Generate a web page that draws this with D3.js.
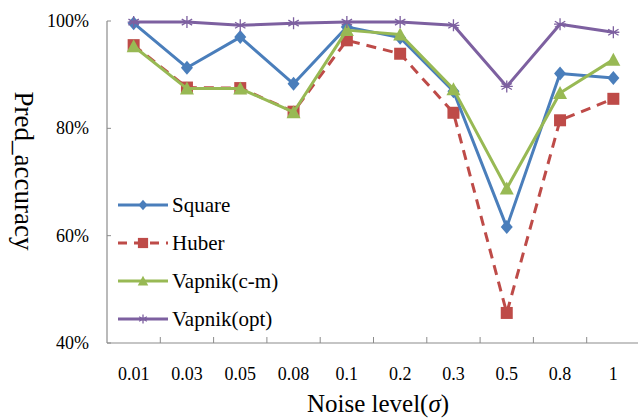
<!DOCTYPE html>
<html>
<head>
<meta charset="utf-8">
<script src="https://cdn.jsdelivr.net/npm/d3@7"></script>
<style>
  body { margin: 0; background: #fff; }
  svg text { font-family: "Liberation Serif", "Times New Roman", serif; }
</style>
</head>
<body>
<div id="chart"></div>
<script>
var categories = ["0.01", "0.03", "0.05", "0.08", "0.1", "0.2", "0.3", "0.5", "0.8", "1"];
var yTicks = [0.4, 0.6, 0.8, 1.0];
var seriesNames = ["Square", "Huber", "Vapnik(c-m)", "Vapnik(opt)"];
var square = [99.6, 91.3, 97.0, 88.3, 98.9, 96.9, 86.9, 61.6, 90.2, 89.4];
var huber = [95.5, 87.6, 87.5, 83.1, 96.4, 93.9, 82.9, 45.6, 81.5, 85.5];
var vapnikCm = [95.3, 87.4, 87.4, 83.0, 98.3, 97.5, 87.3, 68.8, 86.6, 92.8];
var vapnikOpt = [99.8, 99.8, 99.2, 99.6, 99.8, 99.8, 99.2, 87.8, 99.4, 97.9];

var width = 638, height = 420;
var margin = { left: 107, right: 0, top: 21, bottom: 77 };

var svg = d3.select("#chart").append("svg")
  .attr("width", width)
  .attr("height", height);

var x = d3.scaleBand()
  .domain(categories)
  .range([margin.left, 640]);

var y = d3.scaleLinear()
  .domain([0.4, 1.0])
  .range([height - margin.bottom, margin.top]);

var colors = ["#4a7ebb", "#be4b48", "#98b954", "#7d60a0"];
var allData = [square, huber, vapnikCm, vapnikOpt];

// axes
var axisColor = "#8c8c8c";
svg.append("line")
  .attr("x1", margin.left).attr("x2", margin.left)
  .attr("y1", y(1.0)).attr("y2", y(0.4))
  .style("stroke", axisColor).style("stroke-width", 1.2);
svg.append("line")
  .attr("x1", margin.left).attr("x2", 640)
  .attr("y1", y(0.4)).attr("y2", y(0.4))
  .style("stroke", axisColor).style("stroke-width", 1.2);

// y ticks
yTicks.forEach(function (t) {
  svg.append("line")
    .attr("x1", margin.left).attr("x2", margin.left + 4)
    .attr("y1", y(t)).attr("y2", y(t))
    .style("stroke", axisColor);
  svg.append("text")
    .attr("x", 89)
    .attr("y", y(t) + 6)
    .attr("text-anchor", "end")
    .style("font-size", "18px")
    .attr("fill", "#000")
    .text(d3.format(".0%")(t));
});

// x ticks (band boundaries)
categories.forEach(function (c, i) {
  if (i > 0) {
    svg.append("line")
      .attr("x1", x(c)).attr("x2", x(c))
      .attr("y1", y(0.4)).attr("y2", y(0.4) - 6)
      .style("stroke", axisColor);
  }
  svg.append("text")
    .attr("x", x(c) + x.bandwidth() / 2)
    .attr("y", 380)
    .attr("text-anchor", "middle")
    .style("font-size", "18px")
    .text(c);
});

// axis titles
svg.append("text")
  .attr("transform", "translate(15," + 171 + ") rotate(90)")
  .attr("text-anchor", "middle")
  .style("font-size", "27px")
  .text("Pred_accuracy");

var xt = svg.append("text")
  .attr("x", 378)
  .attr("y", 412)
  .attr("text-anchor", "middle")
  .style("font-size", "25px");
xt.append("tspan").text("Noise level(");
xt.append("tspan").style("font-style", "italic").text("σ");
xt.append("tspan").text(")");

var line = d3.line()
  .x(function (d, i) { return x(categories[i]) + x.bandwidth() / 2; })
  .y(function (d) { return y(d / 100); });

function drawMarker(g, k, cx, cy, s) {
  if (k === 0) {
    g.append("path")
      .attr("d", "M" + cx + "," + (cy - 7 * s) + "L" + (cx + 6 * s) + "," + cy + "L" + cx + "," + (cy + 7 * s) + "L" + (cx - 6 * s) + "," + cy + "Z")
      .style("fill", colors[0]);
  } else if (k === 1) {
    g.append("rect")
      .attr("x", cx - 6 * s).attr("y", cy - 6 * s)
      .attr("width", 12 * s).attr("height", 12 * s)
      .style("fill", colors[1]);
  } else if (k === 2) {
    g.append("path")
      .attr("d", "M" + cx + "," + (cy - 7 * s) + "L" + (cx + 7 * s) + "," + (cy + 6 * s) + "L" + (cx - 7 * s) + "," + (cy + 6 * s) + "Z")
      .style("fill", colors[2]);
  } else {
    var r = 6 * s;
    var p = "";
    [0, 60, 120].forEach(function (a) {
      var rad = a * Math.PI / 180;
      p += "M" + (cx - r * Math.sin(rad)) + "," + (cy - r * Math.cos(rad)) +
        "L" + (cx + r * Math.sin(rad)) + "," + (cy + r * Math.cos(rad));
    });
    p += "M" + (cx - r) + "," + cy + "L" + (cx + r) + "," + cy;
    g.append("path")
      .attr("d", p)
      .style("stroke", colors[3])
      .style("stroke-width", 1.3)
      .style("fill", "none");
  }
}

// series: draw in order so that opt sits on top as in the picture
var order = [1, 0, 2, 3];
order.forEach(function (k) {
  var g = svg.append("g");
  g.append("path")
    .datum(allData[k])
    .attr("d", line)
    .style("fill", "none")
    .style("stroke", colors[k])
    .style("stroke-width", 3)
    .style("stroke-linejoin", "round")
    .style("stroke-dasharray", k === 1 ? "10,7" : null);
  allData[k].forEach(function (v, i) {
    drawMarker(g, k, x(categories[i]) + x.bandwidth() / 2, y(v / 100), 1);
  });
});

// legend
var legendY = [205, 243, 281, 319];
seriesNames.forEach(function (name, k) {
  var g = svg.append("g");
  g.append("line")
    .attr("x1", 118).attr("x2", 168)
    .attr("y1", legendY[k]).attr("y2", legendY[k])
    .style("stroke", colors[k])
    .style("stroke-width", 3)
    .style("stroke-dasharray", k === 1 ? "9,7" : null);
  drawMarker(g, k, 143, legendY[k], k === 1 ? 0.85 : 0.75);
  g.append("text")
    .attr("x", 172)
    .attr("y", legendY[k] + 7)
    .style("font-size", "21px")
    .text(name);
});
</script>
</body>
</html>
